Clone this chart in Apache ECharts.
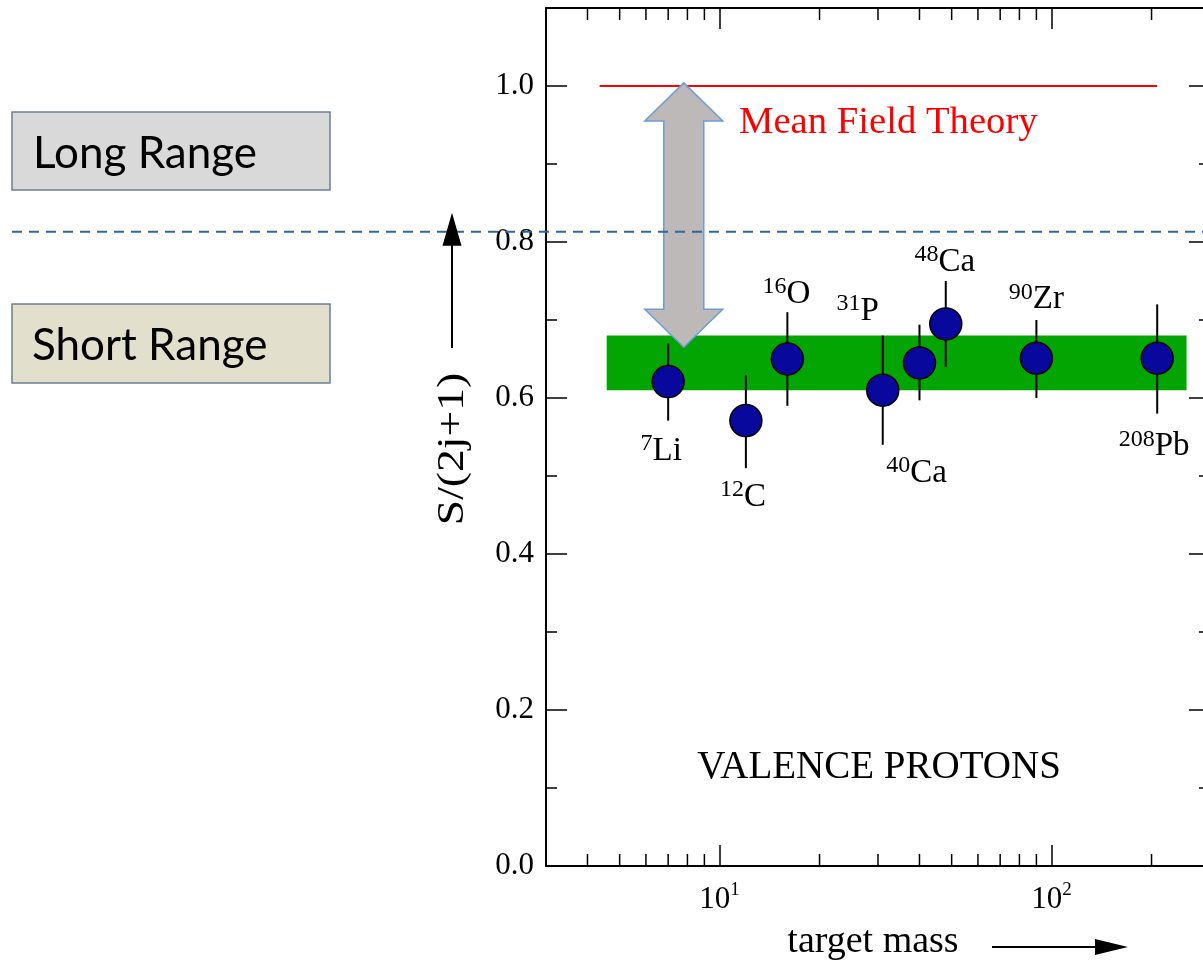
<!DOCTYPE html>
<html><head><meta charset="utf-8">
<script src="https://cdn.jsdelivr.net/npm/echarts@6/dist/echarts.min.js"></script>
<style>html,body{margin:0;padding:0;background:#fff}#chart{width:1203px;height:966px}</style>
</head><body><div id="chart"></div>
<script>
// ---------------- data ----------------
const isotopeMass = [7, 12, 16, 31, 40, 48, 90, 208];
const isotopeSup = ['7', '12', '16', '31', '40', '48', '90', '208'];
const isotopeSymbol = ['Li', 'C', 'O', 'P', 'Ca', 'Ca', 'Zr', 'Pb'];
const spectroscopicFactor = [0.621, 0.571, 0.650, 0.610, 0.645, 0.695, 0.651, 0.651];
const errorLow = [0.571, 0.510, 0.590, 0.540, 0.597, 0.640, 0.600, 0.580];
const errorHigh = [0.670, 0.629, 0.710, 0.680, 0.694, 0.750, 0.700, 0.720];
const meanFieldX = [4.35, 208];
const meanFieldY = 1.0;
const bandX = [4.57, 255];
const bandY = [0.61, 0.68];
const quenchArrowX = 7.8;
const quenchArrowY = [1.004, 0.665];
const separatorY = 0.813;
const xRange = [3, 300];
const yRange = [0, 1.1];
const xMinorTicks = [4, 5, 6, 7, 8, 9, 20, 30, 40, 50, 60, 70, 80, 90, 200];
const yTickLabels = ['0.0', '0.2', '0.4', '0.6', '0.8', '1.0'];

// ---------------- layout / style ----------------
const SERIF = "'Liberation Serif','Times New Roman',serif";
const SANS = "Lato, 'Open Sans', sans-serif";
const labelOffset = [[-7, 68], [-3, 75], [-1, -66], [-25, -80], [-3, 109], [-1, -63], [0, -60], [-3, 87]];

const chart = echarts.init(document.getElementById('chart'), null, {renderer: 'canvas'});

const axisLineStyle = {color: '#000', width: 2};
const baseX = {
  type: 'log', logBase: 10, min: xRange[0], max: xRange[1], gridIndex: 0,
  splitLine: {show: false},
  axisLine: {show: true, onZero: false, lineStyle: axisLineStyle},
  axisTick: {show: true, inside: true, length: 21, lineStyle: {color: '#000', width: 1.5}}
};
const baseY = (pos, interval, len, showLine) => ({
  type: 'value', min: yRange[0], max: yRange[1], interval: interval, position: pos, gridIndex: 0,
  splitLine: {show: false},
  axisLine: {show: showLine, onZero: false, lineStyle: axisLineStyle},
  axisTick: {show: true, inside: true, length: len, lineStyle: {color: '#000', width: 1.5}},
  axisLabel: {show: false}
});

const option = {
  animation: false,
  backgroundColor: '#fff',
  grid: {left: 546, top: 8, width: 664, height: 858, containLabel: false, outerBoundsMode: 'none'},
  xAxis: [
    Object.assign({}, baseX, {
      position: 'bottom',
      name: 'target mass', nameLocation: 'middle', nameGap: 57,
      nameTextStyle: {fontFamily: SERIF, fontSize: 38, color: '#000', padding: [0, 10, 0, 0]},
      axisLabel: {
        show: true, margin: 15,
        formatter: function (v) {
          const l = Math.log10(v), e = Math.round(l);
          if (Math.abs(l - e) > 1e-6) return '';
          return '{b|10}{s|' + e + '}';
        },
        rich: {
          b: {fontFamily: SERIF, fontSize: 31, color: '#000', lineHeight: 34, verticalAlign: 'bottom'},
          s: {fontFamily: SERIF, fontSize: 19, color: '#000', lineHeight: 31, verticalAlign: 'top'}
        }
      }
    }),
    Object.assign({}, baseX, {position: 'top', axisLabel: {show: false}})
  ],
  yAxis: [
    Object.assign(baseY('left', 0.1, 11, true), {
      axisLabel: {
        show: true, margin: 12, fontFamily: SERIF, fontSize: 31, color: '#000',
        formatter: function (v) {
          const k = Math.round(v * 10);
          return (k % 2 === 0 && k <= 10) ? yTickLabels[k / 2] : '';
        }
      }
    }),
    baseY('left', 0.2, 21, false),
    baseY('right', 0.1, 11, true),
    baseY('right', 0.2, 21, false)
  ],
  series: [
    { // agreement band
      type: 'custom', z: 1, silent: true, clip: false,
      data: [[bandX[0], bandY[0], bandX[1], bandY[1]]],
      encode: {x: [0, 2], y: [1, 3]},
      renderItem: function (params, api) {
        const a = api.coord([api.value(0), api.value(3)]);
        const b = api.coord([api.value(2), api.value(1)]);
        return {type: 'rect', shape: {x: a[0], y: a[1], width: b[0] - a[0], height: b[1] - a[1]},
          style: {fill: '#02a502'}};
      }
    },
    { // mean field line
      type: 'line', z: 2, symbol: 'none', silent: true,
      data: meanFieldX.map(x => [x, meanFieldY]),
      lineStyle: {color: '#ff0000', width: 2}
    },
    { // quenching double arrow
      type: 'custom', z: 3, silent: true, clip: false,
      data: [[quenchArrowX, quenchArrowY[0], quenchArrowY[1]]],
      encode: {x: 0, y: [1, 2]},
      renderItem: function (params, api) {
        const t = api.coord([api.value(0), api.value(1)]);
        const b = api.coord([api.value(0), api.value(2)]);
        const cx = t[0], ty = t[1], by = b[1], hw = 39, sw = 20, hl = 38;
        return {type: 'polygon', shape: {points: [
          [cx, ty], [cx + hw, ty + hl], [cx + sw, ty + hl], [cx + sw, by - hl], [cx + hw, by - hl],
          [cx, by], [cx - hw, by - hl], [cx - sw, by - hl], [cx - sw, ty + hl], [cx - hw, ty + hl]
        ]}, style: {fill: '#bdb9b9', stroke: '#6f9bd8', lineWidth: 1.5}};
      }
    },
    { // error bars
      type: 'custom', z: 4, silent: true, clip: false,
      data: isotopeMass.map((m, i) => [m, errorLow[i], errorHigh[i]]),
      encode: {x: 0, y: [1, 2]},
      renderItem: function (params, api) {
        const p1 = api.coord([api.value(0), api.value(1)]);
        const p2 = api.coord([api.value(0), api.value(2)]);
        return {type: 'line', shape: {x1: p1[0], y1: p1[1], x2: p2[0], y2: p2[1]},
          style: {stroke: '#000', lineWidth: 2}};
      }
    },
    { // data points
      type: 'scatter', z: 5, symbol: 'circle', symbolSize: 32,
      itemStyle: {color: '#08089c', borderColor: '#000', borderWidth: 1.5, opacity: 1},
      data: isotopeMass.map((m, i) => ({
        value: [m, spectroscopicFactor[i]],
        label: {offset: labelOffset[i]}
      })),
      label: {
        show: true, position: 'inside', color: '#000',
        formatter: function (p) {
          return '{s|' + isotopeSup[p.dataIndex] + '}{m|' + isotopeSymbol[p.dataIndex] + '}';
        },
        rich: {
          s: {fontFamily: SERIF, fontSize: 24, color: '#000', lineHeight: 18, verticalAlign: 'top'},
          m: {fontFamily: SERIF, fontSize: 33, color: '#000', lineHeight: 36, verticalAlign: 'bottom'}
        }
      }
    },
    { // minor log ticks (bottom and top)
      type: 'custom', z: 6, silent: true, clip: false,
      data: xMinorTicks.map(v => [v, yRange[0]]),
      encode: {x: 0, y: 1},
      renderItem: function (params, api) {
        const pb = api.coord([api.value(0), yRange[0]]);
        const pt = api.coord([api.value(0), yRange[1]]);
        return {type: 'group', children: [
          {type: 'line', shape: {x1: pb[0], y1: pb[1], x2: pb[0], y2: pb[1] - 12}, style: {stroke: '#000', lineWidth: 1.5}},
          {type: 'line', shape: {x1: pt[0], y1: pt[1], x2: pt[0], y2: pt[1] + 12}, style: {stroke: '#000', lineWidth: 1.5}}
        ]};
      }
    }
  ]
};
chart.setOption(option);

// ---------------- annotations ----------------
const sepPx = chart.convertToPixel({yAxisIndex: 0}, separatorY);

chart.setOption({
  graphic: [
    {type: 'rect', shape: {x: 12, y: 112, width: 318, height: 78}, style: {fill: '#d9d9d9', stroke: '#6e7f99', lineWidth: 1.5}},
    {type: 'text', x: 33, y: 154, style: {text: 'Long Range', font: '44px ' + SANS, fill: '#000', verticalAlign: 'middle', align: 'left'}},
    {type: 'rect', shape: {x: 12, y: 304, width: 318, height: 79}, style: {fill: '#e2dfcc', stroke: '#6e7f99', lineWidth: 1.5}},
    {type: 'text', x: 32, y: 346, style: {text: 'Short Range', font: '44px ' + SANS, fill: '#000', verticalAlign: 'middle', align: 'left'}},
    {type: 'line', z: 100, shape: {x1: 12, y1: sepPx, x2: 1203, y2: sepPx}, style: {stroke: '#2f679c', lineWidth: 2, lineDash: [10, 7]}},
    // y axis title + arrow
    {type: 'text', x: 453, y: 449, rotation: Math.PI / 2, scaleX: 1.2,
      style: {text: 'S/(2j+1)', font: '38px ' + SERIF, fill: '#000', align: 'center', verticalAlign: 'middle'}},
    {type: 'line', shape: {x1: 452, y1: 348, x2: 452, y2: 240}, style: {stroke: '#000', lineWidth: 2}},
    {type: 'polygon', z: 101, shape: {points: [[452, sepPx - 19], [442.5, sepPx + 14], [461.5, sepPx + 14]]}, style: {fill: '#000'}},
    // x axis arrow
    {type: 'line', shape: {x1: 992, y1: 947, x2: 1100, y2: 947}, style: {stroke: '#000', lineWidth: 2}},
    {type: 'polygon', shape: {points: [[1128, 947], [1095, 939], [1095, 955]]}, style: {fill: '#000'}},
    // texts
    {type: 'text', x: 739, y: 122.5, style: {text: 'Mean Field Theory', font: '38.7px ' + SERIF, fill: '#ff0000', verticalAlign: 'middle', align: 'left'}},
    {type: 'text', x: 879, y: 768, style: {text: 'VALENCE PROTONS', font: '39px ' + SERIF, fill: '#000', verticalAlign: 'middle', align: 'center'}}
  ]
});
</script></body></html>
